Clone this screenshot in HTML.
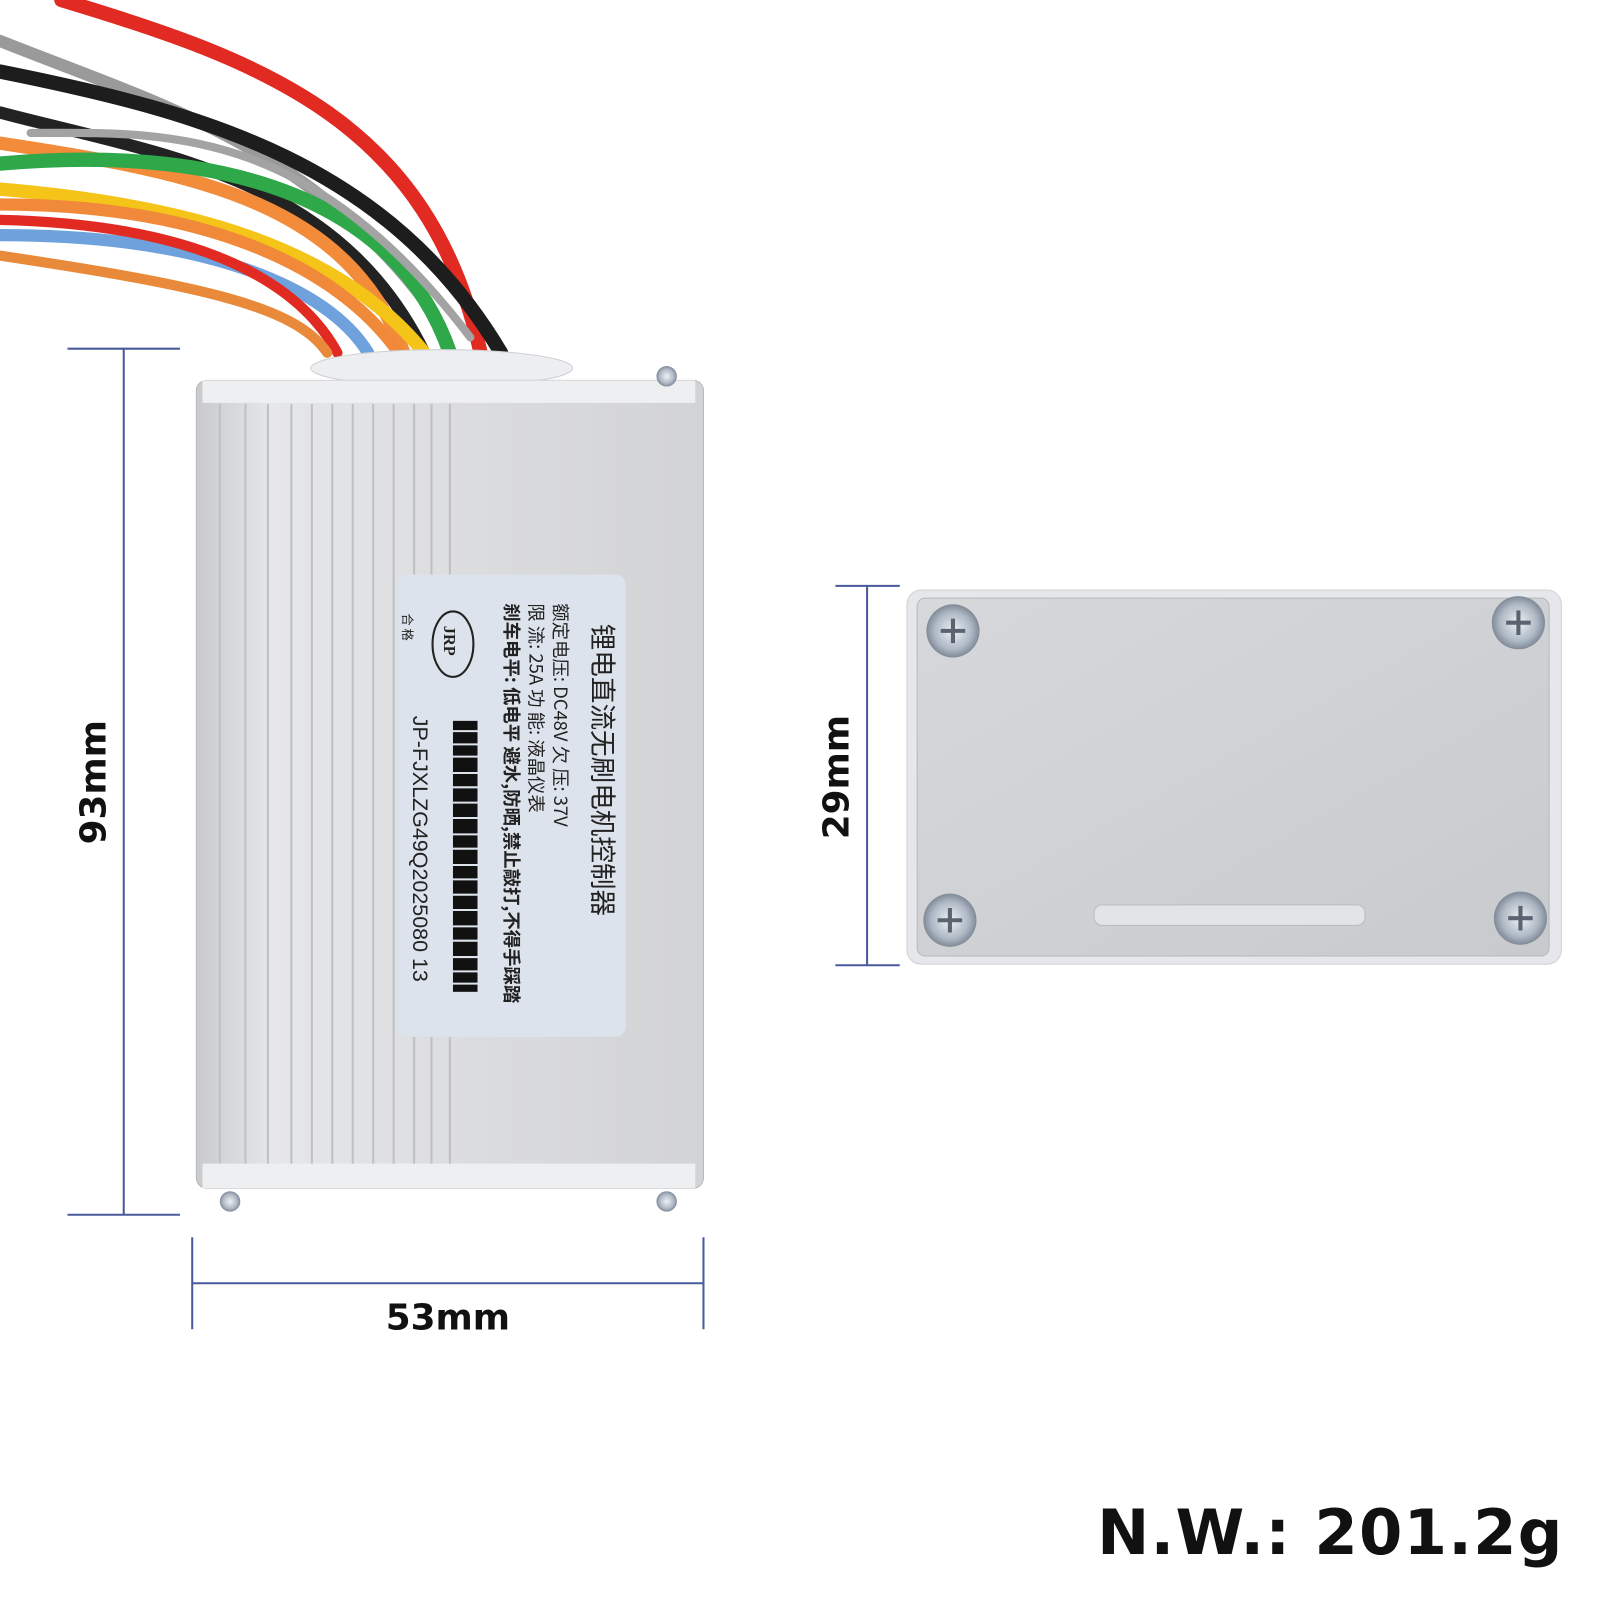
<!DOCTYPE html>
<html><head><meta charset="utf-8"><style>
html,body{margin:0;padding:0;background:#fff;width:1600px;height:1600px;overflow:hidden}
svg{display:block}
</style></head><body>
<svg width="1600" height="1600" viewBox="0 0 1600 1600" xmlns="http://www.w3.org/2000/svg">
<defs>
<linearGradient id="body" x1="0" x2="1" y1="0" y2="0">
<stop offset="0" stop-color="#c9cacc"/><stop offset="0.15" stop-color="#e6e7e9"/><stop offset="0.5" stop-color="#dcdddf"/><stop offset="1" stop-color="#d2d3d5"/>
</linearGradient>
<linearGradient id="plate" x1="0" x2="1" y1="0" y2="1">
<stop offset="0" stop-color="#d6d8db"/><stop offset="1" stop-color="#c8cacd"/>
</linearGradient>
<radialGradient id="screw"><stop offset="0" stop-color="#eef2f6"/><stop offset="0.7" stop-color="#aeb8c4"/><stop offset="1" stop-color="#7f8a96"/></radialGradient>
</defs>
<g transform="scale(1.0225)">
<g fill="none" stroke-linecap="round">
<path d="M0 40 C150 100 300 140 420 300 L440 345" stroke="#9a9a9a" stroke-width="12"/>
<path d="M60 0 C260 60 420 120 470 345" stroke="#e02a22" stroke-width="14"/>
<path d="M0 70 C200 110 380 160 490 345" stroke="#1d1d1d" stroke-width="14"/>
<path d="M0 110 C150 150 330 170 415 345" stroke="#222" stroke-width="12"/>
<path d="M0 140 C200 170 340 200 395 345" stroke="#f28b3a" stroke-width="13"/>
<path d="M0 160 C230 140 390 200 440 345" stroke="#2fa84a" stroke-width="14"/>
<path d="M0 185 C180 200 330 240 415 345" stroke="#f4c418" stroke-width="13"/>
<path d="M0 200 C200 200 330 260 390 345" stroke="#f08a3a" stroke-width="12"/>
<path d="M0 230 C200 230 320 280 360 345" stroke="#6fa2dc" stroke-width="12"/>
<path d="M0 215 C220 220 300 290 330 345" stroke="#e02a22" stroke-width="10"/>
<path d="M0 250 C200 280 290 300 320 345" stroke="#e88a3a" stroke-width="10"/>
<path d="M30 130 C160 130 300 120 460 330" stroke="#a3a3a3" stroke-width="8"/>
</g>
<ellipse cx="432" cy="360" rx="128" ry="18" fill="#eceef0" stroke="#cfd1d4"/>
<rect x="192" y="372" width="496" height="790" rx="10" fill="url(#body)" stroke="#b8b9bb"/>
<rect x="198" y="372" width="482" height="22" fill="#eeeff1"/>
<rect x="198" y="1138" width="482" height="24" fill="#eeeff1"/>
<g stroke="#bfc0c2" stroke-width="2">
<line x1="215" y1="395" x2="215" y2="1138"/><line x1="240" y1="395" x2="240" y2="1138"/>
<line x1="262" y1="395" x2="262" y2="1138"/><line x1="285" y1="395" x2="285" y2="1138"/>
<line x1="305" y1="395" x2="305" y2="1138"/><line x1="325" y1="395" x2="325" y2="1138"/>
<line x1="345" y1="395" x2="345" y2="1138"/><line x1="365" y1="395" x2="365" y2="1138"/>
<line x1="385" y1="395" x2="385" y2="1138"/><line x1="405" y1="395" x2="405" y2="1138"/>
<line x1="422" y1="395" x2="422" y2="1138"/><line x1="440" y1="395" x2="440" y2="1138"/>
</g>
<circle cx="652" cy="368" r="10" fill="url(#screw)"/>
<circle cx="225" cy="1175" r="10" fill="url(#screw)"/>
<circle cx="652" cy="1175" r="10" fill="url(#screw)"/>
<rect x="388" y="562" width="224" height="452" rx="10" fill="#dde3ec"/>
<g font-family="'Noto Sans CJK SC',sans-serif" fill="#222">
<text transform="translate(580,610) rotate(90)" font-size="26">锂电直流无刷电机控制器</text>
<text transform="translate(542,590) rotate(90)" font-size="18">额定电压: DC48V   欠 压: 37V</text>
<text transform="translate(518,590) rotate(90)" font-size="18">限  流: 25A          功 能: 液晶仪表</text>
<text transform="translate(494,590) rotate(90)" font-size="18" font-weight="bold">刹车电平: 低电平  避水,防晒,禁止敲打,不得手踩踏</text>
<text transform="translate(394,600) rotate(90)" font-size="12">合 格</text>
</g>
<ellipse cx="443" cy="630" rx="20" ry="32" fill="none" stroke="#222" stroke-width="2"/>
<text transform="translate(434,612) rotate(90)" font-family="Liberation Serif,serif" font-size="16" font-weight="bold" fill="#222">JRP</text>
<rect x="443" y="705" width="24" height="265" fill="#111"/>
<g stroke="#dde3ec" stroke-width="2">
<line x1="443" y1="715" x2="467" y2="715"/><line x1="443" y1="728" x2="467" y2="728"/><line x1="443" y1="740" x2="467" y2="740"/><line x1="443" y1="756" x2="467" y2="756"/><line x1="443" y1="770" x2="467" y2="770"/><line x1="443" y1="785" x2="467" y2="785"/><line x1="443" y1="800" x2="467" y2="800"/><line x1="443" y1="816" x2="467" y2="816"/><line x1="443" y1="830" x2="467" y2="830"/><line x1="443" y1="846" x2="467" y2="846"/><line x1="443" y1="860" x2="467" y2="860"/><line x1="443" y1="875" x2="467" y2="875"/><line x1="443" y1="890" x2="467" y2="890"/><line x1="443" y1="906" x2="467" y2="906"/><line x1="443" y1="920" x2="467" y2="920"/><line x1="443" y1="936" x2="467" y2="936"/><line x1="443" y1="950" x2="467" y2="950"/><line x1="443" y1="962" x2="467" y2="962"/>
</g>
<text transform="translate(404,700) rotate(90)" font-family="Liberation Sans,sans-serif" font-size="21" fill="#222">JP-FJXLZG49Q2025080 13</text>
<rect x="887" y="577" width="640" height="366" rx="14" fill="#e6e7ea" stroke="#cfd1d4"/>
<rect x="897" y="585" width="618" height="350" rx="8" fill="url(#plate)" stroke="#b5b8bc"/>
<rect x="1070" y="885" width="265" height="20" rx="8" fill="#e2e4e7" stroke="#b9bcc0"/>
<circle cx="932" cy="617" r="26" fill="url(#screw)"/><circle cx="1485" cy="609" r="26" fill="url(#screw)"/>
<circle cx="929" cy="900" r="26" fill="url(#screw)"/><circle cx="1487" cy="898" r="26" fill="url(#screw)"/>
<g stroke="#5a6470" stroke-width="4">
<path d="M920 617h24M932 605v24"/><path d="M1473 609h24M1485 597v24"/>
<path d="M917 900h24M929 888v24"/><path d="M1475 898h24M1487 886v24"/>
</g>
<g stroke="#4a5a9c" stroke-width="2">
<line x1="66" y1="341" x2="176" y2="341"/><line x1="66" y1="1188" x2="176" y2="1188"/><line x1="121" y1="341" x2="121" y2="1188"/>
<line x1="188" y1="1210" x2="188" y2="1300"/><line x1="688" y1="1210" x2="688" y2="1300"/><line x1="188" y1="1255" x2="688" y2="1255"/>
<line x1="817" y1="573" x2="880" y2="573"/><line x1="817" y1="944" x2="880" y2="944"/><line x1="848" y1="573" x2="848" y2="944"/>
</g>
<g font-family="'DejaVu Sans',sans-serif" font-weight="bold" fill="#111">
<text transform="translate(103,765) rotate(-90)" font-size="35" text-anchor="middle">93mm</text>
<text transform="translate(830,760) rotate(-90)" font-size="35" text-anchor="middle">29mm</text>
<text x="438" y="1300" font-size="35" text-anchor="middle">53mm</text>
<text x="1528" y="1520" font-size="61" text-anchor="end" textLength="455">N.W.: 201.2g</text>
</g>
</g>
</svg>
</body></html>
